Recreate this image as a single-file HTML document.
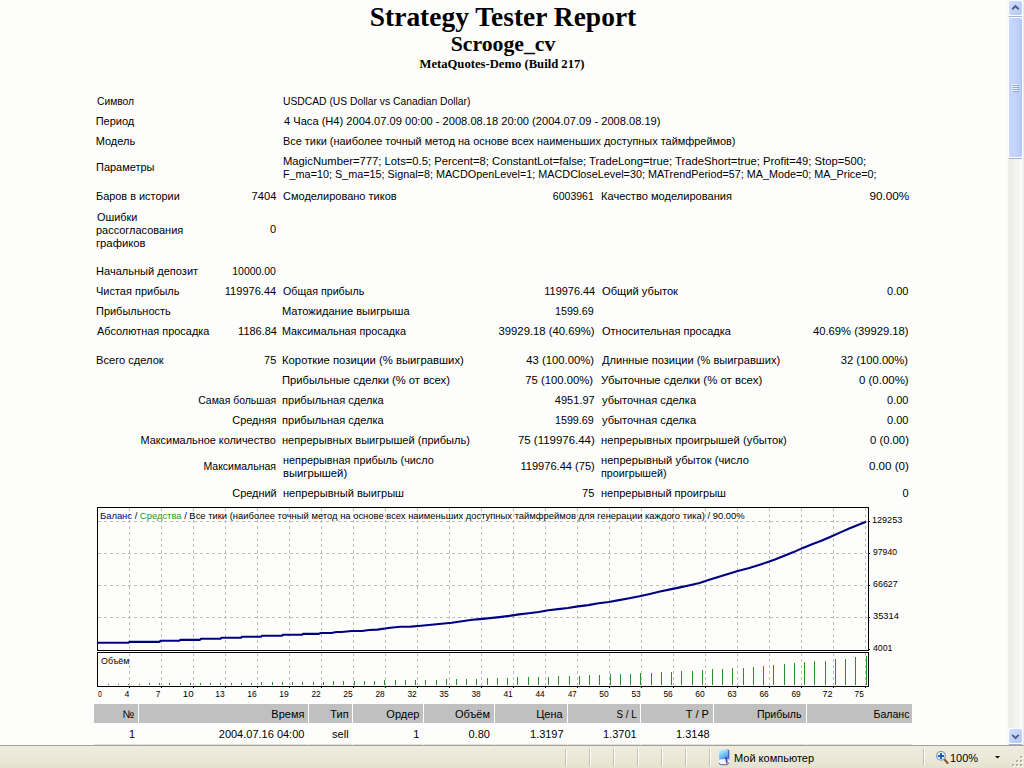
<!DOCTYPE html>
<html><head><meta charset="utf-8"><title>Strategy Tester: Scrooge_cv</title>
<style>
html,body{margin:0;padding:0;width:1024px;height:768px;overflow:hidden;background:#fdfefc;}
body{position:relative;font-family:"Liberation Sans", sans-serif;font-size:11px;color:#000;}
.t{position:absolute;white-space:nowrap;}
.chart{position:absolute;left:0;top:0;}
</style></head><body>
<div style="position:absolute;left:94px;top:704px;width:44px;height:19px;background:#c0c0c0"></div><div style="position:absolute;left:94px;top:744px;width:44px;height:1px;background:#e0e0e0"></div><div style="position:absolute;left:139px;top:704px;width:169px;height:19px;background:#c0c0c0"></div><div style="position:absolute;left:139px;top:744px;width:169px;height:1px;background:#e0e0e0"></div><div style="position:absolute;left:309px;top:704px;width:43px;height:19px;background:#c0c0c0"></div><div style="position:absolute;left:309px;top:744px;width:43px;height:1px;background:#e0e0e0"></div><div style="position:absolute;left:353px;top:704px;width:70px;height:19px;background:#c0c0c0"></div><div style="position:absolute;left:353px;top:744px;width:70px;height:1px;background:#e0e0e0"></div><div style="position:absolute;left:424px;top:704px;width:70px;height:19px;background:#c0c0c0"></div><div style="position:absolute;left:424px;top:744px;width:70px;height:1px;background:#e0e0e0"></div><div style="position:absolute;left:495px;top:704px;width:72px;height:19px;background:#c0c0c0"></div><div style="position:absolute;left:495px;top:744px;width:72px;height:1px;background:#e0e0e0"></div><div style="position:absolute;left:568px;top:704px;width:72px;height:19px;background:#c0c0c0"></div><div style="position:absolute;left:568px;top:744px;width:72px;height:1px;background:#e0e0e0"></div><div style="position:absolute;left:641px;top:704px;width:72px;height:19px;background:#c0c0c0"></div><div style="position:absolute;left:641px;top:744px;width:72px;height:1px;background:#e0e0e0"></div><div style="position:absolute;left:714px;top:704px;width:92px;height:19px;background:#c0c0c0"></div><div style="position:absolute;left:714px;top:744px;width:92px;height:1px;background:#e0e0e0"></div><div style="position:absolute;left:807px;top:704px;width:105px;height:19px;background:#c0c0c0"></div><div style="position:absolute;left:807px;top:744px;width:105px;height:1px;background:#e0e0e0"></div>
<svg class="chart" width="1024" height="768" viewBox="0 0 1024 768" shape-rendering="crispEdges"><line x1="98" y1="521.5" x2="868" y2="521.5" stroke="#c0c0c0" stroke-dasharray="3 3" stroke-dashoffset="0"/><line x1="98" y1="553.5" x2="868" y2="553.5" stroke="#c0c0c0" stroke-dasharray="3 3" stroke-dashoffset="0"/><line x1="98" y1="585.5" x2="868" y2="585.5" stroke="#c0c0c0" stroke-dasharray="3 3" stroke-dashoffset="0"/><line x1="98" y1="617.5" x2="868" y2="617.5" stroke="#c0c0c0" stroke-dasharray="3 3" stroke-dashoffset="0"/><line x1="129.5" y1="508" x2="129.5" y2="650" stroke="#c0c0c0" stroke-dasharray="3 3"/><line x1="129.5" y1="653" x2="129.5" y2="686" stroke="#c0c0c0" stroke-dasharray="3 3"/><line x1="161.5" y1="508" x2="161.5" y2="650" stroke="#c0c0c0" stroke-dasharray="3 3"/><line x1="161.5" y1="653" x2="161.5" y2="686" stroke="#c0c0c0" stroke-dasharray="3 3"/><line x1="193.5" y1="508" x2="193.5" y2="650" stroke="#c0c0c0" stroke-dasharray="3 3"/><line x1="193.5" y1="653" x2="193.5" y2="686" stroke="#c0c0c0" stroke-dasharray="3 3"/><line x1="225.5" y1="508" x2="225.5" y2="650" stroke="#c0c0c0" stroke-dasharray="3 3"/><line x1="225.5" y1="653" x2="225.5" y2="686" stroke="#c0c0c0" stroke-dasharray="3 3"/><line x1="257.5" y1="508" x2="257.5" y2="650" stroke="#c0c0c0" stroke-dasharray="3 3"/><line x1="257.5" y1="653" x2="257.5" y2="686" stroke="#c0c0c0" stroke-dasharray="3 3"/><line x1="289.5" y1="508" x2="289.5" y2="650" stroke="#c0c0c0" stroke-dasharray="3 3"/><line x1="289.5" y1="653" x2="289.5" y2="686" stroke="#c0c0c0" stroke-dasharray="3 3"/><line x1="321.5" y1="508" x2="321.5" y2="650" stroke="#c0c0c0" stroke-dasharray="3 3"/><line x1="321.5" y1="653" x2="321.5" y2="686" stroke="#c0c0c0" stroke-dasharray="3 3"/><line x1="353.5" y1="508" x2="353.5" y2="650" stroke="#c0c0c0" stroke-dasharray="3 3"/><line x1="353.5" y1="653" x2="353.5" y2="686" stroke="#c0c0c0" stroke-dasharray="3 3"/><line x1="385.5" y1="508" x2="385.5" y2="650" stroke="#c0c0c0" stroke-dasharray="3 3"/><line x1="385.5" y1="653" x2="385.5" y2="686" stroke="#c0c0c0" stroke-dasharray="3 3"/><line x1="417.5" y1="508" x2="417.5" y2="650" stroke="#c0c0c0" stroke-dasharray="3 3"/><line x1="417.5" y1="653" x2="417.5" y2="686" stroke="#c0c0c0" stroke-dasharray="3 3"/><line x1="449.5" y1="508" x2="449.5" y2="650" stroke="#c0c0c0" stroke-dasharray="3 3"/><line x1="449.5" y1="653" x2="449.5" y2="686" stroke="#c0c0c0" stroke-dasharray="3 3"/><line x1="481.5" y1="508" x2="481.5" y2="650" stroke="#c0c0c0" stroke-dasharray="3 3"/><line x1="481.5" y1="653" x2="481.5" y2="686" stroke="#c0c0c0" stroke-dasharray="3 3"/><line x1="513.5" y1="508" x2="513.5" y2="650" stroke="#c0c0c0" stroke-dasharray="3 3"/><line x1="513.5" y1="653" x2="513.5" y2="686" stroke="#c0c0c0" stroke-dasharray="3 3"/><line x1="545.5" y1="508" x2="545.5" y2="650" stroke="#c0c0c0" stroke-dasharray="3 3"/><line x1="545.5" y1="653" x2="545.5" y2="686" stroke="#c0c0c0" stroke-dasharray="3 3"/><line x1="577.5" y1="508" x2="577.5" y2="650" stroke="#c0c0c0" stroke-dasharray="3 3"/><line x1="577.5" y1="653" x2="577.5" y2="686" stroke="#c0c0c0" stroke-dasharray="3 3"/><line x1="609.5" y1="508" x2="609.5" y2="650" stroke="#c0c0c0" stroke-dasharray="3 3"/><line x1="609.5" y1="653" x2="609.5" y2="686" stroke="#c0c0c0" stroke-dasharray="3 3"/><line x1="641.5" y1="508" x2="641.5" y2="650" stroke="#c0c0c0" stroke-dasharray="3 3"/><line x1="641.5" y1="653" x2="641.5" y2="686" stroke="#c0c0c0" stroke-dasharray="3 3"/><line x1="673.5" y1="508" x2="673.5" y2="650" stroke="#c0c0c0" stroke-dasharray="3 3"/><line x1="673.5" y1="653" x2="673.5" y2="686" stroke="#c0c0c0" stroke-dasharray="3 3"/><line x1="705.5" y1="508" x2="705.5" y2="650" stroke="#c0c0c0" stroke-dasharray="3 3"/><line x1="705.5" y1="653" x2="705.5" y2="686" stroke="#c0c0c0" stroke-dasharray="3 3"/><line x1="737.5" y1="508" x2="737.5" y2="650" stroke="#c0c0c0" stroke-dasharray="3 3"/><line x1="737.5" y1="653" x2="737.5" y2="686" stroke="#c0c0c0" stroke-dasharray="3 3"/><line x1="769.5" y1="508" x2="769.5" y2="650" stroke="#c0c0c0" stroke-dasharray="3 3"/><line x1="769.5" y1="653" x2="769.5" y2="686" stroke="#c0c0c0" stroke-dasharray="3 3"/><line x1="801.5" y1="508" x2="801.5" y2="650" stroke="#c0c0c0" stroke-dasharray="3 3"/><line x1="801.5" y1="653" x2="801.5" y2="686" stroke="#c0c0c0" stroke-dasharray="3 3"/><line x1="833.5" y1="508" x2="833.5" y2="650" stroke="#c0c0c0" stroke-dasharray="3 3"/><line x1="833.5" y1="653" x2="833.5" y2="686" stroke="#c0c0c0" stroke-dasharray="3 3"/><line x1="865.5" y1="508" x2="865.5" y2="650" stroke="#c0c0c0" stroke-dasharray="3 3"/><line x1="865.5" y1="653" x2="865.5" y2="686" stroke="#c0c0c0" stroke-dasharray="3 3"/><rect x="97.5" y="507.5" width="771" height="143" fill="none" stroke="#000"/><rect x="97.5" y="652.5" width="771" height="34" fill="none" stroke="#000"/><rect x="869" y="521" width="1" height="1" fill="#000"/><rect x="869" y="553" width="1" height="1" fill="#000"/><rect x="869" y="585" width="1" height="1" fill="#000"/><rect x="869" y="617" width="1" height="1" fill="#000"/><rect x="869" y="649" width="1" height="1" fill="#000"/><rect x="129" y="687" width="1" height="1" fill="#000"/><rect x="161" y="687" width="1" height="1" fill="#000"/><rect x="193" y="687" width="1" height="1" fill="#000"/><rect x="225" y="687" width="1" height="1" fill="#000"/><rect x="257" y="687" width="1" height="1" fill="#000"/><rect x="289" y="687" width="1" height="1" fill="#000"/><rect x="321" y="687" width="1" height="1" fill="#000"/><rect x="353" y="687" width="1" height="1" fill="#000"/><rect x="385" y="687" width="1" height="1" fill="#000"/><rect x="417" y="687" width="1" height="1" fill="#000"/><rect x="449" y="687" width="1" height="1" fill="#000"/><rect x="481" y="687" width="1" height="1" fill="#000"/><rect x="513" y="687" width="1" height="1" fill="#000"/><rect x="545" y="687" width="1" height="1" fill="#000"/><rect x="577" y="687" width="1" height="1" fill="#000"/><rect x="609" y="687" width="1" height="1" fill="#000"/><rect x="641" y="687" width="1" height="1" fill="#000"/><rect x="673" y="687" width="1" height="1" fill="#000"/><rect x="705" y="687" width="1" height="1" fill="#000"/><rect x="737" y="687" width="1" height="1" fill="#000"/><rect x="769" y="687" width="1" height="1" fill="#000"/><rect x="801" y="687" width="1" height="1" fill="#000"/><rect x="833" y="687" width="1" height="1" fill="#000"/><rect x="865" y="687" width="1" height="1" fill="#000"/><rect x="108" y="684" width="1" height="1" fill="#2a8f2a"/><rect x="118" y="684" width="1" height="1" fill="#2a8f2a"/><rect x="128" y="684" width="1" height="1" fill="#2a8f2a"/><rect x="139" y="684" width="1" height="1" fill="#2a8f2a"/><rect x="149" y="683" width="1" height="2" fill="#2a8f2a"/><rect x="159" y="683" width="1" height="2" fill="#2a8f2a"/><rect x="169" y="683" width="1" height="2" fill="#2a8f2a"/><rect x="180" y="683" width="1" height="2" fill="#2a8f2a"/><rect x="190" y="683" width="1" height="2" fill="#2a8f2a"/><rect x="200" y="683" width="1" height="2" fill="#2a8f2a"/><rect x="210" y="683" width="1" height="2" fill="#2a8f2a"/><rect x="220" y="683" width="1" height="2" fill="#2a8f2a"/><rect x="231" y="683" width="1" height="2" fill="#2a8f2a"/><rect x="241" y="683" width="1" height="2" fill="#2a8f2a"/><rect x="251" y="683" width="1" height="2" fill="#2a8f2a"/><rect x="261" y="682" width="1" height="3" fill="#2a8f2a"/><rect x="272" y="682" width="1" height="3" fill="#2a8f2a"/><rect x="282" y="682" width="1" height="3" fill="#2a8f2a"/><rect x="292" y="682" width="1" height="3" fill="#2a8f2a"/><rect x="302" y="682" width="1" height="3" fill="#2a8f2a"/><rect x="313" y="682" width="1" height="3" fill="#2a8f2a"/><rect x="323" y="682" width="1" height="3" fill="#2a8f2a"/><rect x="333" y="681" width="1" height="4" fill="#2a8f2a"/><rect x="343" y="681" width="1" height="4" fill="#2a8f2a"/><rect x="354" y="681" width="1" height="4" fill="#2a8f2a"/><rect x="364" y="681" width="1" height="4" fill="#2a8f2a"/><rect x="374" y="681" width="1" height="4" fill="#2a8f2a"/><rect x="384" y="680" width="1" height="5" fill="#2a8f2a"/><rect x="395" y="680" width="1" height="5" fill="#2a8f2a"/><rect x="405" y="680" width="1" height="5" fill="#2a8f2a"/><rect x="415" y="680" width="1" height="5" fill="#2a8f2a"/><rect x="425" y="680" width="1" height="5" fill="#2a8f2a"/><rect x="436" y="680" width="1" height="5" fill="#2a8f2a"/><rect x="446" y="679" width="1" height="6" fill="#2a8f2a"/><rect x="456" y="679" width="1" height="6" fill="#2a8f2a"/><rect x="466" y="679" width="1" height="6" fill="#2a8f2a"/><rect x="476" y="679" width="1" height="6" fill="#2a8f2a"/><rect x="487" y="678" width="1" height="7" fill="#2a8f2a"/><rect x="497" y="678" width="1" height="7" fill="#2a8f2a"/><rect x="507" y="678" width="1" height="7" fill="#2a8f2a"/><rect x="517" y="677" width="1" height="8" fill="#2a8f2a"/><rect x="528" y="677" width="1" height="8" fill="#2a8f2a"/><rect x="538" y="677" width="1" height="8" fill="#2a8f2a"/><rect x="548" y="677" width="1" height="8" fill="#2a8f2a"/><rect x="558" y="676" width="1" height="9" fill="#2a8f2a"/><rect x="569" y="676" width="1" height="9" fill="#2a8f2a"/><rect x="579" y="676" width="1" height="9" fill="#2a8f2a"/><rect x="589" y="675" width="1" height="10" fill="#2a8f2a"/><rect x="599" y="675" width="1" height="10" fill="#2a8f2a"/><rect x="610" y="674" width="1" height="11" fill="#2a8f2a"/><rect x="620" y="674" width="1" height="11" fill="#2a8f2a"/><rect x="630" y="674" width="1" height="11" fill="#2a8f2a"/><rect x="640" y="673" width="1" height="12" fill="#2a8f2a"/><rect x="651" y="673" width="1" height="12" fill="#2a8f2a"/><rect x="661" y="672" width="1" height="13" fill="#2a8f2a"/><rect x="671" y="672" width="1" height="13" fill="#2a8f2a"/><rect x="681" y="671" width="1" height="14" fill="#2a8f2a"/><rect x="692" y="671" width="1" height="14" fill="#2a8f2a"/><rect x="702" y="670" width="1" height="15" fill="#2a8f2a"/><rect x="712" y="669" width="1" height="16" fill="#2a8f2a"/><rect x="722" y="669" width="1" height="16" fill="#2a8f2a"/><rect x="732" y="668" width="1" height="17" fill="#2a8f2a"/><rect x="743" y="668" width="1" height="17" fill="#2a8f2a"/><rect x="753" y="667" width="1" height="18" fill="#2a8f2a"/><rect x="763" y="666" width="1" height="19" fill="#2a8f2a"/><rect x="773" y="665" width="1" height="20" fill="#2a8f2a"/><rect x="784" y="664" width="1" height="21" fill="#2a8f2a"/><rect x="794" y="663" width="1" height="22" fill="#2a8f2a"/><rect x="804" y="662" width="1" height="23" fill="#2a8f2a"/><rect x="814" y="661" width="1" height="24" fill="#2a8f2a"/><rect x="825" y="661" width="1" height="24" fill="#2a8f2a"/><rect x="835" y="659" width="1" height="26" fill="#2a8f2a"/><rect x="845" y="659" width="1" height="26" fill="#2a8f2a"/><rect x="855" y="657" width="1" height="28" fill="#2a8f2a"/><rect x="866" y="656" width="1" height="29" fill="#2a8f2a"/><g shape-rendering="auto"><path d="M98.0,642.8 L128.5,642.8 L129.5,641.9 L159.5,641.9 L160.5,640.8 L179.5,640.8 L180.5,639.9 L200.0,639.9 L201.0,638.8 L220.5,638.8 L221.5,637.8 L241.0,637.8 L242.0,636.8 L261.0,636.8 L262.0,635.8 L282.0,635.8 L283.0,634.8 L302.0,634.8 L303.0,633.9 L318.0,633.9 L321.0,633.0 L331.3,633.0 L336.4,632.0 L341.5,632.0 L351.8,631.0 L362.0,631.0 L369.2,630.0 L377.4,629.6 L385.0,628.5 L390.3,627.8 L400.5,626.8 L410.8,626.6 L421.0,625.8 L431.3,624.8 L441.5,623.8 L451.8,622.7 L462.0,621.2 L472.3,619.8 L480.0,619.1 L489.8,618.1 L499.5,617.1 L509.3,615.9 L519.0,614.4 L528.8,613.2 L538.6,612.0 L548.4,610.3 L558.1,609.1 L567.9,608.0 L578.0,606.4 L588.3,605.1 L598.5,603.3 L608.8,602.0 L619.0,600.1 L629.3,598.3 L639.5,596.3 L649.8,594.0 L660.0,591.5 L670.3,589.4 L680.0,587.4 L689.8,585.2 L699.5,583.0 L709.3,579.8 L719.0,576.7 L728.8,573.7 L738.6,570.8 L748.4,568.2 L758.1,565.3 L767.9,562.0 L775.0,559.5 L784.3,555.8 L793.6,552.1 L802.8,547.9 L812.1,544.2 L821.4,540.8 L830.7,536.8 L839.9,532.6 L849.2,528.5 L858.5,524.7 L866.0,521.8" fill="none" stroke="#000080" stroke-width="2.1" stroke-linejoin="round"/></g></svg>
<svg style="position:absolute;left:1007px;top:0" width="17" height="745"><defs><linearGradient id="gbtn" x1="0" y1="0" x2="1" y2="1"><stop offset="0" stop-color="#d2defc"/><stop offset="1" stop-color="#b4c8f6"/></linearGradient><linearGradient id="gthumb" x1="0" y1="0" x2="1" y2="0"><stop offset="0" stop-color="#c9d6fb"/><stop offset="0.5" stop-color="#c3d3fb"/><stop offset="0.85" stop-color="#b8ccf8"/><stop offset="1" stop-color="#aec4f4"/></linearGradient></defs><rect x="0" y="0" width="17" height="745" fill="#f3f3ef"/><rect x="0" y="0" width="1" height="745" fill="#f9f9f6"/><rect x="1" y="0" width="5" height="745" fill="#eeeee9"/><rect x="12" y="0" width="4" height="745" fill="#f9f9f6"/><rect x="16" y="0" width="1" height="745" fill="#ebebe5"/><rect x="1" y="0" width="15" height="16" rx="2" fill="#fdfeff"/><rect x="2" y="1" width="13" height="14" rx="2" fill="url(#gbtn)"/><rect x="2" y="16" width="13" height="1" fill="#a3b1d2"/><path d="M5.2,9.3 L8.5,6.1 L11.8,9.3" fill="none" stroke="#4d6185" stroke-width="2" stroke-linecap="butt"/><rect x="1" y="728" width="15" height="16" rx="2" fill="#fdfeff"/><rect x="2" y="729" width="13" height="14" rx="2" fill="url(#gbtn)"/><rect x="2" y="744" width="13" height="1" fill="#a3b1d2"/><path d="M5.2,734.9 L8.5,738.1 L11.8,734.9" fill="none" stroke="#4d6185" stroke-width="2" stroke-linecap="butt"/><rect x="1" y="17" width="15" height="142" rx="2" fill="#fdfeff"/><rect x="2" y="18" width="13" height="139" rx="2" fill="url(#gthumb)"/><rect x="2" y="158" width="13" height="1" fill="#a3b1d2"/><rect x="5" y="84" width="6" height="1" fill="#eef3ff"/><rect x="6" y="85" width="6" height="1" fill="#8ea6dc"/><rect x="5" y="86" width="6" height="1" fill="#eef3ff"/><rect x="6" y="87" width="6" height="1" fill="#8ea6dc"/><rect x="5" y="88" width="6" height="1" fill="#eef3ff"/><rect x="6" y="89" width="6" height="1" fill="#8ea6dc"/><rect x="5" y="90" width="6" height="1" fill="#eef3ff"/><rect x="6" y="91" width="6" height="1" fill="#8ea6dc"/></svg>
<svg style="position:absolute;left:0;top:745px" width="1024" height="23"><defs><linearGradient id="gst" x1="0" y1="0" x2="0" y2="1"><stop offset="0" stop-color="#efece0"/><stop offset="0.6" stop-color="#ebe8d8"/><stop offset="1" stop-color="#e4e1d0"/></linearGradient><linearGradient id="gmon" x1="0" y1="0" x2="0.5" y2="1"><stop offset="0" stop-color="#d4faff"/><stop offset="0.45" stop-color="#7fd0fa"/><stop offset="1" stop-color="#3f8fe4"/></linearGradient></defs><rect x="0" y="0" width="1024" height="23" fill="url(#gst)"/><rect x="0" y="0" width="1024" height="1" fill="#a4a290"/><rect x="565" y="4" width="1" height="17" fill="#c4c1b0"/><rect x="566" y="4" width="1" height="17" fill="#ffffff"/><rect x="589" y="4" width="1" height="17" fill="#c4c1b0"/><rect x="590" y="4" width="1" height="17" fill="#ffffff"/><rect x="613" y="4" width="1" height="17" fill="#c4c1b0"/><rect x="614" y="4" width="1" height="17" fill="#ffffff"/><rect x="637" y="4" width="1" height="17" fill="#c4c1b0"/><rect x="638" y="4" width="1" height="17" fill="#ffffff"/><rect x="661" y="4" width="1" height="17" fill="#c4c1b0"/><rect x="662" y="4" width="1" height="17" fill="#ffffff"/><rect x="685" y="4" width="1" height="17" fill="#c4c1b0"/><rect x="686" y="4" width="1" height="17" fill="#ffffff"/><rect x="709" y="4" width="1" height="17" fill="#c4c1b0"/><rect x="710" y="4" width="1" height="17" fill="#ffffff"/><rect x="923" y="4" width="1" height="17" fill="#c4c1b0"/><rect x="924" y="4" width="1" height="17" fill="#ffffff"/><path d="M719,6.2 Q719,5.2 720,5.1 L727,4.5 Q728.6,4.4 728.6,6 L728.6,14.5 L719.2,15.5 Z" fill="url(#gmon)"/><path d="M727.6,4.6 Q728.8,4.8 728.8,6.2 L728.8,14.6" fill="none" stroke="#2c4c9c" stroke-width="1"/><path d="M719,14.6 L728.6,13.6 L728.6,17.6 Q728.6,19.6 726.6,19.6 L721,19.6 Q719,19.6 719,17.6 Z" fill="#f2f2fc"/><path d="M719.2,18 Q719.6,19.7 721.4,19.7 L726.6,19.7 Q728.4,19.7 728.7,17.6" fill="none" stroke="#55557a" stroke-width="0.9"/><path d="M724.8,12.4 L727.4,11.8 L727.6,18.6 L726.4,18.8 Z" fill="#5b48b8"/><line x1="944.5" y1="14.5" x2="947.5" y2="18" stroke="#8a5a2a" stroke-width="2.2" stroke-linecap="round"/><circle cx="941" cy="10.8" r="4.3" fill="#e8f8ff" stroke="#8a94a8" stroke-width="1.2"/><rect x="938" y="10" width="6" height="2" fill="#1560c0"/><rect x="940" y="8" width="2" height="6" fill="#1560c0"/><path d="M995,11 L1000,11 L997.5,13.6 Z" fill="#000"/><rect x="1021" y="12" width="2" height="2" fill="#ffffff"/><rect x="1020" y="11" width="2" height="2" fill="#b3b0a0"/><rect x="1017" y="16" width="2" height="2" fill="#ffffff"/><rect x="1016" y="15" width="2" height="2" fill="#b3b0a0"/><rect x="1021" y="16" width="2" height="2" fill="#ffffff"/><rect x="1020" y="15" width="2" height="2" fill="#b3b0a0"/><rect x="1013" y="20" width="2" height="2" fill="#ffffff"/><rect x="1012" y="19" width="2" height="2" fill="#b3b0a0"/><rect x="1017" y="20" width="2" height="2" fill="#ffffff"/><rect x="1016" y="19" width="2" height="2" fill="#b3b0a0"/><rect x="1021" y="20" width="2" height="2" fill="#ffffff"/><rect x="1020" y="19" width="2" height="2" fill="#b3b0a0"/></svg>
<div class="t" id="t3b1c34e4" style="top:1.86px;font-size:26.6667px;line-height:31px;font-family:'Liberation Serif', serif;font-weight:bold;left:202.70px;width:600px;text-align:center;transform:scaleX(1.0303);transform-origin:center;">Strategy Tester Report</div><div class="t" id="t12c1d114" style="top:31.91px;font-size:21.3333px;line-height:25px;font-family:'Liberation Serif', serif;font-weight:bold;left:202.60px;width:600px;text-align:center;transform:scaleX(1.0196);transform-origin:center;">Scrooge_cv</div><div class="t" id="tec3e4eb8" style="top:56.30px;font-size:13px;line-height:16px;font-family:'Liberation Serif', serif;font-weight:bold;left:202.30px;width:600px;text-align:center;transform:scaleX(0.9728);transform-origin:center;">MetaQuotes-Demo (Build 217)</div><div class="t" id="t45229265" style="top:94.89px;font-size:11px;line-height:13px;left:96.73px;transform:scaleX(0.9337);transform-origin:left;">Символ</div><div class="t" id="t7e0d1923" style="top:94.89px;font-size:11px;line-height:13px;left:283.13px;transform:scaleX(0.9377);transform-origin:left;">USDCAD (US Dollar vs Canadian Dollar)</div><div class="t" id="t505145f3" style="top:114.89px;font-size:11px;line-height:13px;left:95.70px;transform:scaleX(1.0);transform-origin:left;">Период</div><div class="t" id="ta294d32a" style="top:114.89px;font-size:11px;line-height:13px;left:284.09px;transform:scaleX(1.0092);transform-origin:left;">4 Часа (H4) 2004.07.09 00:00 - 2008.08.18 20:00 (2004.07.09 - 2008.08.19)</div><div class="t" id="t31e253d8" style="top:134.79px;font-size:11px;line-height:13px;left:95.70px;transform:scaleX(1.0);transform-origin:left;">Модель</div><div class="t" id="t835b4543" style="top:134.79px;font-size:11px;line-height:13px;left:283.10px;transform:scaleX(0.9926);transform-origin:left;">Все тики (наиболее точный метод на основе всех наименьших доступных таймфреймов)</div><div class="t" id="ta28d4041" style="top:160.69px;font-size:11px;line-height:13px;left:95.69px;transform:scaleX(0.9969);transform-origin:left;">Параметры</div><div class="t" id="t02e704ad" style="top:155.29px;font-size:11px;line-height:13px;left:282.59px;transform:scaleX(1.0221);transform-origin:left;">MagicNumber=777; Lots=0.5; Percent=8; ConstantLot=false; TradeLong=true; TradeShort=true; Profit=49; Stop=500;</div><div class="t" id="t737c0b71" style="top:168.29px;font-size:11px;line-height:13px;left:282.61px;transform:scaleX(0.9825);transform-origin:left;">F_ma=10; S_ma=15; Signal=8; MACDOpenLevel=1; MACDCloseLevel=30; MATrendPeriod=57; MA_Mode=0; MA_Price=0;</div><div class="t" id="t19c1ad49" style="top:190.29px;font-size:11px;line-height:13px;left:95.67px;transform:scaleX(0.9921);transform-origin:left;">Баров в истории</div><div class="t" id="tee62ad41" style="top:190.29px;font-size:11px;line-height:13px;right:747.42px;transform:scaleX(1.0156);transform-origin:right;">7404</div><div class="t" id="t10d7ead3" style="top:190.29px;font-size:11px;line-height:13px;left:283.20px;transform:scaleX(1.0009);transform-origin:left;">Смоделировано тиков</div><div class="t" id="tc2c66976" style="top:190.29px;font-size:11px;line-height:13px;right:430.67px;transform:scaleX(0.9581);transform-origin:right;">6003961</div><div class="t" id="tf4bf4256" style="top:190.29px;font-size:11px;line-height:13px;left:601.18px;transform:scaleX(1.0078);transform-origin:left;">Качество моделирования</div><div class="t" id="tec5ef2d5" style="top:190.29px;font-size:11px;line-height:13px;right:114.96px;transform:scaleX(1.0685);transform-origin:right;">90.00%</div><div class="t" id="t493b5052" style="top:210.89px;font-size:11px;line-height:13px;left:96.72px;transform:scaleX(0.9887);transform-origin:left;">Ошибки</div><div class="t" id="t36d730d7" style="top:223.89px;font-size:11px;line-height:13px;left:95.70px;transform:scaleX(0.996);transform-origin:left;">рассогласования</div><div class="t" id="ta50e9f76" style="top:222.89px;font-size:11px;line-height:13px;right:748.00px;transform:scaleX(1.0);transform-origin:right;">0</div><div class="t" id="t5647b081" style="top:236.89px;font-size:11px;line-height:13px;left:95.66px;transform:scaleX(1.0241);transform-origin:left;">графиков</div><div class="t" id="t7efba37a" style="top:265.49px;font-size:11px;line-height:13px;left:95.69px;transform:scaleX(1.004);transform-origin:left;">Начальный депозит</div><div class="t" id="ta7926911" style="top:265.49px;font-size:11px;line-height:13px;right:748.48px;transform:scaleX(0.95);transform-origin:right;">10000.00</div><div class="t" id="tff7402cc" style="top:285.49px;font-size:11px;line-height:13px;left:95.72px;transform:scaleX(0.9988);transform-origin:left;">Чистая прибыль</div><div class="t" id="tf2a6cc2d" style="top:285.49px;font-size:11px;line-height:13px;right:747.49px;transform:scaleX(1.0043);transform-origin:right;">119976.44</div><div class="t" id="t437cfe92" style="top:285.49px;font-size:11px;line-height:13px;left:283.21px;transform:scaleX(0.9711);transform-origin:left;">Общая прибыль</div><div class="t" id="tc577076f" style="top:285.49px;font-size:11px;line-height:13px;right:429.24px;transform:scaleX(0.9948);transform-origin:right;">119976.44</div><div class="t" id="tc21f7f6a" style="top:285.49px;font-size:11px;line-height:13px;left:601.74px;transform:scaleX(1.014);transform-origin:left;">Общий убыток</div><div class="t" id="t467ba160" style="top:285.49px;font-size:11px;line-height:13px;right:115.50px;transform:scaleX(1.0);transform-origin:right;">0.00</div><div class="t" id="tf7299b46" style="top:305.49px;font-size:11px;line-height:13px;left:95.70px;transform:scaleX(0.9965);transform-origin:left;">Прибыльность</div><div class="t" id="t99e619d9" style="top:305.49px;font-size:11px;line-height:13px;left:282.17px;transform:scaleX(1.0095);transform-origin:left;">Матожидание выигрыша</div><div class="t" id="t85324790" style="top:305.49px;font-size:11px;line-height:13px;right:430.54px;transform:scaleX(0.9765);transform-origin:right;">1599.69</div><div class="t" id="t5cdd6ad5" style="top:325.49px;font-size:11px;line-height:13px;left:96.70px;transform:scaleX(0.994);transform-origin:left;">Абсолютная просадка</div><div class="t" id="tdafabb66" style="top:325.49px;font-size:11px;line-height:13px;right:747.50px;transform:scaleX(0.9978);transform-origin:right;">1186.84</div><div class="t" id="te14416ef" style="top:325.49px;font-size:11px;line-height:13px;left:282.22px;transform:scaleX(0.9802);transform-origin:left;">Максимальная просадка</div><div class="t" id="te6e9761b" style="top:325.49px;font-size:11px;line-height:13px;right:429.67px;transform:scaleX(1.0265);transform-origin:right;">39929.18 (40.69%)</div><div class="t" id="t6101920e" style="top:325.49px;font-size:11px;line-height:13px;left:601.75px;transform:scaleX(0.9999);transform-origin:left;">Относительная просадка</div><div class="t" id="te6c77d90" style="top:325.49px;font-size:11px;line-height:13px;right:115.49px;transform:scaleX(1.0215);transform-origin:right;">40.69% (39929.18)</div><div class="t" id="tec9be3c0" style="top:354.49px;font-size:11px;line-height:13px;left:95.68px;transform:scaleX(1.0097);transform-origin:left;">Всего сделок</div><div class="t" id="taecf3f7b" style="top:354.49px;font-size:11px;line-height:13px;right:748.00px;transform:scaleX(0.9952);transform-origin:right;">75</div><div class="t" id="tf1d6d7c9" style="top:354.49px;font-size:11px;line-height:13px;left:282.19px;transform:scaleX(1.0265);transform-origin:left;">Короткие позиции (% выигравших)</div><div class="t" id="t8ffea4b0" style="top:354.49px;font-size:11px;line-height:13px;right:429.51px;transform:scaleX(1.0274);transform-origin:right;">43 (100.00%)</div><div class="t" id="tfd52aac4" style="top:354.49px;font-size:11px;line-height:13px;left:601.75px;transform:scaleX(1.0084);transform-origin:left;">Длинные позиции (% выигравших)</div><div class="t" id="t3747daf1" style="top:354.49px;font-size:11px;line-height:13px;right:116.40px;transform:scaleX(1.0188);transform-origin:right;">32 (100.00%)</div><div class="t" id="t67fc1555" style="top:374.49px;font-size:11px;line-height:13px;left:282.19px;transform:scaleX(1.0208);transform-origin:left;">Прибыльные сделки (% от всех)</div><div class="t" id="t4c3b04e2" style="top:374.49px;font-size:11px;line-height:13px;right:430.64px;transform:scaleX(1.0267);transform-origin:right;">75 (100.00%)</div><div class="t" id="t6380fa6d" style="top:374.49px;font-size:11px;line-height:13px;left:600.73px;transform:scaleX(1.0369);transform-origin:left;">Убыточные сделки (% от всех)</div><div class="t" id="tb99775a8" style="top:374.49px;font-size:11px;line-height:13px;right:115.48px;transform:scaleX(1.0426);transform-origin:right;">0 (0.00%)</div><div class="t" id="t20ace3d0" style="top:394.49px;font-size:11px;line-height:13px;right:748.05px;transform:scaleX(0.9491);transform-origin:right;">Самая большая</div><div class="t" id="t1f4d5b03" style="top:394.49px;font-size:11px;line-height:13px;left:282.23px;transform:scaleX(1.0071);transform-origin:left;">прибыльная сделка</div><div class="t" id="t85e90fec" style="top:394.49px;font-size:11px;line-height:13px;right:429.70px;transform:scaleX(1.0061);transform-origin:right;">4951.97</div><div class="t" id="t657f06f6" style="top:394.49px;font-size:11px;line-height:13px;left:601.74px;transform:scaleX(1.0137);transform-origin:left;">убыточная сделка</div><div class="t" id="t35bb1707" style="top:394.49px;font-size:11px;line-height:13px;right:115.50px;transform:scaleX(1.0);transform-origin:right;">0.00</div><div class="t" id="tc87f193e" style="top:414.49px;font-size:11px;line-height:13px;right:747.99px;transform:scaleX(0.9942);transform-origin:right;">Средняя</div><div class="t" id="tbf63d8ae" style="top:414.49px;font-size:11px;line-height:13px;left:282.23px;transform:scaleX(1.0071);transform-origin:left;">прибыльная сделка</div><div class="t" id="t9c9070a4" style="top:414.49px;font-size:11px;line-height:13px;right:430.54px;transform:scaleX(0.9765);transform-origin:right;">1599.69</div><div class="t" id="t57671e2c" style="top:414.49px;font-size:11px;line-height:13px;left:601.74px;transform:scaleX(1.0137);transform-origin:left;">убыточная сделка</div><div class="t" id="ta7c3026b" style="top:414.49px;font-size:11px;line-height:13px;right:115.50px;transform:scaleX(1.0);transform-origin:right;">0.00</div><div class="t" id="t0f2f31f3" style="top:434.49px;font-size:11px;line-height:13px;right:748.00px;transform:scaleX(0.989);transform-origin:right;">Максимальное количество</div><div class="t" id="t0a194e13" style="top:434.49px;font-size:11px;line-height:13px;left:282.18px;transform:scaleX(1.0066);transform-origin:left;">непрерывных выигрышей (прибыль)</div><div class="t" id="tc6fa7f28" style="top:434.49px;font-size:11px;line-height:13px;right:429.66px;transform:scaleX(1.0423);transform-origin:right;">75 (119976.44)</div><div class="t" id="t38de55c4" style="top:434.49px;font-size:11px;line-height:13px;left:600.74px;transform:scaleX(1.019);transform-origin:left;">непрерывных проигрышей (убыток)</div><div class="t" id="tde591a54" style="top:434.49px;font-size:11px;line-height:13px;right:115.45px;transform:scaleX(1.0262);transform-origin:right;">0 (0.00)</div><div class="t" id="ta99aa729" style="top:459.69px;font-size:11px;line-height:13px;right:748.00px;transform:scaleX(0.955);transform-origin:right;">Максимальная</div><div class="t" id="t7a15d36b" style="top:459.69px;font-size:11px;line-height:13px;right:429.19px;transform:scaleX(1.0083);transform-origin:right;">119976.44 (75)</div><div class="t" id="te441f26e" style="top:459.69px;font-size:11px;line-height:13px;right:115.47px;transform:scaleX(1.0544);transform-origin:right;">0.00 (0)</div><div class="t" id="t0c163998" style="top:453.79px;font-size:11px;line-height:13px;left:283.11px;transform:scaleX(0.9868);transform-origin:left;">непрерывная прибыль (число</div><div class="t" id="t3a91ec46" style="top:453.79px;font-size:11px;line-height:13px;left:600.50px;transform:scaleX(1.0137);transform-origin:left;">непрерывный убыток (число</div><div class="t" id="t1a848eac" style="top:466.79px;font-size:11px;line-height:13px;left:283.09px;transform:scaleX(1.0232);transform-origin:left;">выигрышей)</div><div class="t" id="ta01f2abe" style="top:466.79px;font-size:11px;line-height:13px;left:600.51px;transform:scaleX(0.9758);transform-origin:left;">проигрышей)</div><div class="t" id="t0876365f" style="top:487.49px;font-size:11px;line-height:13px;right:746.99px;transform:scaleX(0.9942);transform-origin:right;">Средний</div><div class="t" id="t8eac644e" style="top:487.49px;font-size:11px;line-height:13px;left:282.61px;transform:scaleX(1.0068);transform-origin:left;">непрерывный выигрыш</div><div class="t" id="ta7c68085" style="top:487.49px;font-size:11px;line-height:13px;right:429.70px;transform:scaleX(1.0);transform-origin:right;">75</div><div class="t" id="t19b88b56" style="top:487.49px;font-size:11px;line-height:13px;left:600.71px;transform:scaleX(1.0025);transform-origin:left;">непрерывный проигрыш</div><div class="t" id="te488d53d" style="top:487.49px;font-size:11px;line-height:13px;right:115.50px;transform:scaleX(1.0);transform-origin:right;">0</div><div class="t" id="tc1ad771f" style="top:509.71px;font-size:9.5px;line-height:12px;left:100.00px;transform:scaleX(0.9898);transform-origin:left;"><span style="color:#000080">Баланс</span> / <span style="color:#1e9a1e">Средства</span> / Все тики (наиболее точный метод на основе всех наименьших доступных таймфреймов для генерации каждого тика) / 90.00%</div><div class="t" id="t921d833a" style="top:654.71px;font-size:9.5px;line-height:12px;left:100.98px;transform:scaleX(0.9361);transform-origin:left;">Объём</div><div class="t" id="td22a067d" style="top:513.67px;font-size:9.6px;line-height:12px;left:872.22px;transform:scaleX(0.943);transform-origin:left;">129253</div><div class="t" id="t3f04da72" style="top:545.67px;font-size:9.6px;line-height:12px;left:873.08px;transform:scaleX(0.9006);transform-origin:left;">97940</div><div class="t" id="t1347cd04" style="top:577.67px;font-size:9.6px;line-height:12px;left:873.09px;transform:scaleX(0.9272);transform-origin:left;">66627</div><div class="t" id="td4d6335a" style="top:609.67px;font-size:9.6px;line-height:12px;left:873.09px;transform:scaleX(0.9694);transform-origin:left;">35314</div><div class="t" id="t647fd92b" style="top:641.67px;font-size:9.6px;line-height:12px;left:873.08px;transform:scaleX(0.9136);transform-origin:left;">4001</div><div class="t" id="t4122bfbf" style="top:687.67px;font-size:9.6px;line-height:12px;left:98.00px;transform:scaleX(0.7111);transform-origin:left;">0</div><div class="t" id="t63ccd00d" style="top:687.67px;font-size:9.6px;line-height:12px;right:895.00px;transform:scaleX(0.9207);transform-origin:right;">4</div><div class="t" id="t6b1f3324" style="top:687.67px;font-size:9.6px;line-height:12px;right:863.77px;transform:scaleX(0.8634);transform-origin:right;">7</div><div class="t" id="tf20541e7" style="top:687.67px;font-size:9.6px;line-height:12px;right:830.59px;transform:scaleX(1.0137);transform-origin:right;">10</div><div class="t" id="t0509dbd5" style="top:687.67px;font-size:9.6px;line-height:12px;right:798.96px;transform:scaleX(0.887);transform-origin:right;">13</div><div class="t" id="t92de801b" style="top:687.67px;font-size:9.6px;line-height:12px;right:766.96px;transform:scaleX(0.887);transform-origin:right;">16</div><div class="t" id="t2074ef76" style="top:687.67px;font-size:9.6px;line-height:12px;right:734.96px;transform:scaleX(0.887);transform-origin:right;">19</div><div class="t" id="t683b3443" style="top:687.67px;font-size:9.6px;line-height:12px;right:703.05px;transform:scaleX(0.871);transform-origin:right;">22</div><div class="t" id="t5588f70d" style="top:687.67px;font-size:9.6px;line-height:12px;right:670.93px;transform:scaleX(0.8817);transform-origin:right;">25</div><div class="t" id="ta41cf1dc" style="top:687.67px;font-size:9.6px;line-height:12px;right:639.10px;transform:scaleX(0.8709);transform-origin:right;">28</div><div class="t" id="tc03d3dea" style="top:687.67px;font-size:9.6px;line-height:12px;right:607.05px;transform:scaleX(0.871);transform-origin:right;">32</div><div class="t" id="t2e218081" style="top:687.67px;font-size:9.6px;line-height:12px;right:574.93px;transform:scaleX(0.8817);transform-origin:right;">35</div><div class="t" id="t9ae1d528" style="top:687.67px;font-size:9.6px;line-height:12px;right:543.10px;transform:scaleX(0.8709);transform-origin:right;">38</div><div class="t" id="tc3ff85ee" style="top:687.67px;font-size:9.6px;line-height:12px;right:510.98px;transform:scaleX(0.8709);transform-origin:right;">41</div><div class="t" id="tb8466e52" style="top:687.67px;font-size:9.6px;line-height:12px;right:479.04px;transform:scaleX(0.8709);transform-origin:right;">44</div><div class="t" id="t24060bf7" style="top:687.67px;font-size:9.6px;line-height:12px;right:447.77px;transform:scaleX(0.8061);transform-origin:right;">47</div><div class="t" id="tea898edc" style="top:687.67px;font-size:9.6px;line-height:12px;right:414.94px;transform:scaleX(0.8817);transform-origin:right;">50</div><div class="t" id="t6ef26a9f" style="top:687.67px;font-size:9.6px;line-height:12px;right:383.11px;transform:scaleX(0.8709);transform-origin:right;">53</div><div class="t" id="ta5526724" style="top:687.67px;font-size:9.6px;line-height:12px;right:351.11px;transform:scaleX(0.8709);transform-origin:right;">56</div><div class="t" id="tf677e671" style="top:687.67px;font-size:9.6px;line-height:12px;right:318.93px;transform:scaleX(0.8817);transform-origin:right;">60</div><div class="t" id="t470b33d0" style="top:687.67px;font-size:9.6px;line-height:12px;right:287.10px;transform:scaleX(0.8709);transform-origin:right;">63</div><div class="t" id="t7eb5f08c" style="top:687.67px;font-size:9.6px;line-height:12px;right:255.10px;transform:scaleX(0.8709);transform-origin:right;">66</div><div class="t" id="t22e1d54f" style="top:687.67px;font-size:9.6px;line-height:12px;right:223.10px;transform:scaleX(0.8709);transform-origin:right;">69</div><div class="t" id="t017d2361" style="top:687.67px;font-size:9.6px;line-height:12px;right:190.92px;transform:scaleX(0.9466);transform-origin:right;">72</div><div class="t" id="t465e0ff0" style="top:687.67px;font-size:9.6px;line-height:12px;right:159.87px;transform:scaleX(0.8518);transform-origin:right;">75</div><div class="t" id="td77ae435" style="top:708.49px;font-size:11px;line-height:13px;right:889.80px;transform:scaleX(1.0);transform-origin:right;">№</div><div class="t" id="tddbed273" style="top:708.49px;font-size:11px;line-height:13px;right:719.60px;transform:scaleX(1.0);transform-origin:right;">Время</div><div class="t" id="t0acd0ff7" style="top:708.49px;font-size:11px;line-height:13px;right:675.40px;transform:scaleX(1.0);transform-origin:right;">Тип</div><div class="t" id="tbd86afdc" style="top:708.49px;font-size:11px;line-height:13px;right:604.60px;transform:scaleX(1.0);transform-origin:right;">Ордер</div><div class="t" id="tc4785805" style="top:708.49px;font-size:11px;line-height:13px;right:534.00px;transform:scaleX(1.0);transform-origin:right;">Объём</div><div class="t" id="t01a4059b" style="top:708.49px;font-size:11px;line-height:13px;right:461.40px;transform:scaleX(1.0);transform-origin:right;">Цена</div><div class="t" id="t0bc68132" style="top:708.49px;font-size:11px;line-height:13px;right:387.80px;transform:scaleX(0.8849);transform-origin:right;">S / L</div><div class="t" id="ta83ba9ae" style="top:708.49px;font-size:11px;line-height:13px;right:314.79px;transform:scaleX(1.0106);transform-origin:right;">T / P</div><div class="t" id="te7fd8010" style="top:708.49px;font-size:11px;line-height:13px;right:222.92px;transform:scaleX(0.9592);transform-origin:right;">Прибыль</div><div class="t" id="t7d0fb22d" style="top:708.49px;font-size:11px;line-height:13px;right:114.94px;transform:scaleX(0.9599);transform-origin:right;">Баланс</div><div class="t" id="t168c770f" style="top:728.49px;font-size:11px;line-height:13px;right:888.80px;transform:scaleX(1.0);transform-origin:right;">1</div><div class="t" id="td6e8e527" style="top:728.49px;font-size:11px;line-height:13px;right:719.60px;transform:scaleX(1.0);transform-origin:right;">2004.07.16 04:00</div><div class="t" id="t829fc858" style="top:728.49px;font-size:11px;line-height:13px;right:675.40px;transform:scaleX(1.0);transform-origin:right;">sell</div><div class="t" id="t3d0c0eec" style="top:728.49px;font-size:11px;line-height:13px;right:604.60px;transform:scaleX(1.0);transform-origin:right;">1</div><div class="t" id="tfb65523a" style="top:728.49px;font-size:11px;line-height:13px;right:534.00px;transform:scaleX(1.0);transform-origin:right;">0.80</div><div class="t" id="tfa30985c" style="top:728.49px;font-size:11px;line-height:13px;right:460.40px;transform:scaleX(1.0);transform-origin:right;">1.3197</div><div class="t" id="t0c6a9584" style="top:728.49px;font-size:11px;line-height:13px;right:386.94px;transform:scaleX(1.0012);transform-origin:right;">1.3701</div><div class="t" id="tb6a23ac4" style="top:728.49px;font-size:11px;line-height:13px;right:314.19px;transform:scaleX(1.0012);transform-origin:right;">1.3148</div><div class="t" id="t255eaea3" style="top:751.99px;font-size:11px;line-height:13px;left:734.12px;transform:scaleX(0.9995);transform-origin:left;">Мой компьютер</div><div class="t" id="t52ab5c58" style="top:752.09px;font-size:11px;line-height:13px;left:950.00px;transform:scaleX(0.995);transform-origin:left;">100%</div>
</body></html>
